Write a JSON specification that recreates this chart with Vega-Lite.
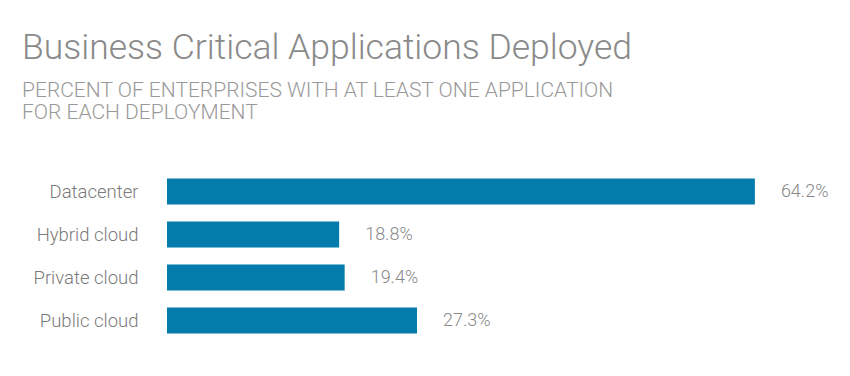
{
  "$schema": "https://vega.github.io/schema/vega-lite/v6.json",
  "autosize": {"type": "none"},
  "width": 641,
  "height": 172,
  "padding": {"left": 167, "top": 170, "right": 42, "bottom": 34},
  "background": "#ffffff",
  "title": {
    "text": "Business Critical Applications Deployed",
    "subtitle": ["PERCENT OF ENTERPRISES WITH AT LEAST ONE APPLICATION", "FOR EACH DEPLOYMENT"],
    "anchor": "start",
    "frame": "group",
    "dx": -145,
    "offset": 47,
    "font": "Roboto",
    "fontSize": 35.5,
    "fontWeight": 300,
    "color": "#8a8a8a",
    "subtitleFont": "Roboto",
    "subtitleFontSize": 21,
    "subtitleFontWeight": 300,
    "subtitleColor": "#999999",
    "subtitleLineHeight": 22,
    "subtitlePadding": 14
  },
  "data": {
    "values": [
      {"deployment": "Datacenter", "value": 64.2, "label": "64.2%"},
      {"deployment": "Hybrid cloud", "value": 18.8, "label": "18.8%"},
      {"deployment": "Private cloud", "value": 19.4, "label": "19.4%"},
      {"deployment": "Public cloud", "value": 27.3, "label": "27.3%"}
    ]
  },
  "encoding": {
    "y": {
      "field": "deployment",
      "type": "nominal",
      "sort": null,
      "title": null,
      "scale": {"paddingInner": 0.4, "paddingOuter": 0.2},
      "axis": {
        "domain": false,
        "ticks": false,
        "labelPadding": 29,
        "labelFont": "Roboto",
        "labelFontSize": 18.5,
        "labelColor": "#7a7a7a",
        "labelFontWeight": 300
      }
    },
    "x": {
      "field": "value",
      "type": "quantitative",
      "scale": {"domain": [0, 70], "nice": false},
      "axis": null
    }
  },
  "layer": [
    {"mark": {"type": "bar", "color": "#037bab"}},
    {
      "mark": {"type": "text", "align": "left", "dx": 26, "font": "Roboto", "fontSize": 18, "fontWeight": 300, "color": "#888888"},
      "encoding": {"text": {"field": "label"}}
    }
  ],
  "config": {
    "view": {"stroke": null},
    "axis": {"grid": false}
  }
}
